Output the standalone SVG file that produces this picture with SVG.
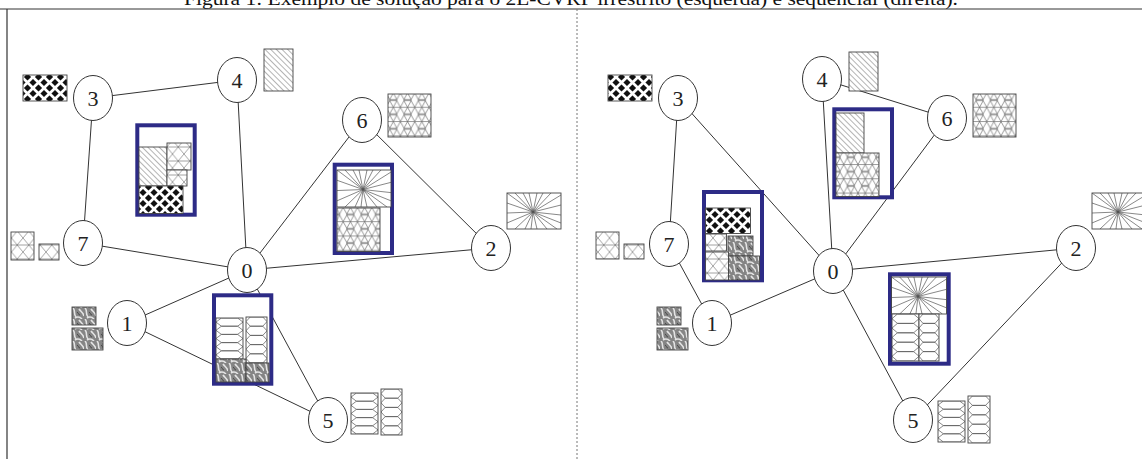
<svg xmlns="http://www.w3.org/2000/svg" xmlns:xlink="http://www.w3.org/1999/xlink" width="1142" height="459" viewBox="0 0 1142 459">
<style>
.title{font-family:"Liberation Serif","Times New Roman",Times,serif;font-size:19px;fill:#111}
.lbl{font-family:"Liberation Serif","Times New Roman",Times,serif;font-size:22px;fill:#222;text-anchor:middle}
.node{fill:#fff;stroke:#333;stroke-width:1}
.edge{stroke:#333;stroke-width:1;fill:none}
.box{fill:#fff;stroke:#2d2b86;stroke-width:4}
.it{stroke:#444;stroke-width:0.9}
.ln{stroke:#555;stroke-width:0.7;fill:none}
</style>
<defs>
<pattern id="trellis" width="11" height="11" patternUnits="userSpaceOnUse">
<rect width="11" height="11" fill="#111"/>
<path d="M-1,-1 L12,12 M12,-1 L-1,12" stroke="#fff" stroke-width="2.7"/>
</pattern>
<pattern id="hatch" width="4" height="4" patternUnits="userSpaceOnUse" patternTransform="rotate(-45)">
<rect width="4" height="4" fill="#fff"/>
<line x1="0" y1="0" x2="0" y2="4" stroke="#444" stroke-width="0.8"/>
</pattern>
<pattern id="voro" width="14.3" height="14.3" patternUnits="userSpaceOnUse">
<rect width="14.3" height="14.3" fill="#fff"/>
<path d="M3.6,0.6 L10.7,0.6 L14.3,7.2 L10.7,13.7 L3.6,13.7 L0,7.2 Z M7.2,7.2 L3.6,0.6 M7.2,7.2 L10.7,0.6 M7.2,7.2 L14.3,7.2 M7.2,7.2 L10.7,13.7 M7.2,7.2 L3.6,13.7 M7.2,7.2 L0,7.2 M3.6,0.6 L3.6,0 M10.7,0.6 L10.7,0 M3.6,13.7 L3.6,14.3 M10.7,13.7 L10.7,14.3" stroke="#555" stroke-width="0.6" fill="none"/>
</pattern>
<pattern id="tri" width="11.5" height="14" patternUnits="userSpaceOnUse">
<rect width="11.5" height="14" fill="#fff"/>
<path d="M0,0 L11.5,14 M11.5,0 L0,14 M0,7 L11.5,7" stroke="#666" stroke-width="0.6" fill="none"/>
</pattern>
<pattern id="grey" width="12" height="11" patternUnits="userSpaceOnUse">
<rect width="12" height="11" fill="#858585"/>
<path d="M1,0 C4,3 1,6 4,9 M7,1 C9,4 11,4 12,8 M3,10 C6,8 8,9 10,11" stroke="#e4e4e4" stroke-width="1.6" fill="none"/>
<path d="M5,4 C7,5 6,7 8,7" stroke="#4a4a4a" stroke-width="1" fill="none"/>
</pattern>
<symbol id="star" viewBox="0 0 54 36" preserveAspectRatio="none">
<rect width="54" height="36" fill="#fff"/>
<path vector-effect="non-scaling-stroke" class="ln" d="M26,19 L0,0 M26,19 L8,0 M26,19 L16,0 M26,19 L22,0 M26,19 L30,0 M26,19 L36,0 M26,19 L44,0 M26,19 L54,2 M26,19 L54,12 M26,19 L54,22 M26,19 L54,30 M26,19 L50,36 M26,19 L40,36 M26,19 L30,36 M26,19 L24,36 M26,19 L18,36 M26,19 L8,36 M26,19 L0,30 M26,19 L0,20 M26,19 L0,10"/>
</symbol>
<symbol id="honey" viewBox="0 0 20 40" preserveAspectRatio="none">
<rect width="20" height="40" fill="#fff"/>
<path vector-effect="non-scaling-stroke" class="ln" d="M0,4 L4,0 L16,0 L20,4 L16,8 L4,8 Z M0,12 L4,8 L16,8 L20,12 L16,16 L4,16 Z M0,20 L4,16 L16,16 L20,20 L16,24 L4,24 Z M0,28 L4,24 L16,24 L20,28 L16,32 L4,32 Z M0,36 L4,32 L16,32 L20,36 L16,40 L4,40 Z"/>
</symbol>
</defs>
<rect width="1142" height="459" fill="#fff"/>
<text class="title" x="571" y="5" text-anchor="middle" textLength="774" lengthAdjust="spacingAndGlyphs">Figura 1: Exemplo de solução para o 2L-CVRP irrestrito (esquerda) e sequencial (direita).</text>
<g id="frame">
<line x1="0" y1="9" x2="1142" y2="9" stroke="#333" stroke-width="1"/>
<line x1="7" y1="9" x2="7" y2="459" stroke="#333" stroke-width="1.2"/>
<line x1="577" y1="9" x2="577" y2="459" stroke="#777" stroke-width="1" stroke-dasharray="2,2"/>
</g>
<g id="connectors">
<line class="edge" x1="93" y1="98" x2="237" y2="80"/>
<line class="edge" x1="93" y1="98" x2="83" y2="243"/>
<line class="edge" x1="237" y1="80" x2="247" y2="270"/>
<line class="edge" x1="83" y1="243" x2="247" y2="270"/>
<line class="edge" x1="247" y1="270" x2="362" y2="120"/>
<line class="edge" x1="362" y1="120" x2="491" y2="248"/>
<line class="edge" x1="247" y1="270" x2="491" y2="248"/>
<line class="edge" x1="247" y1="270" x2="127" y2="323"/>
<line class="edge" x1="127" y1="323" x2="328" y2="420"/>
<line class="edge" x1="247" y1="270" x2="328" y2="420"/>
<line class="edge" x1="678" y1="98" x2="669" y2="244"/>
<line class="edge" x1="678" y1="98" x2="833" y2="271"/>
<line class="edge" x1="669" y1="244" x2="712" y2="323"/>
<line class="edge" x1="712" y1="323" x2="833" y2="271"/>
<line class="edge" x1="822" y1="79" x2="833" y2="271"/>
<line class="edge" x1="822" y1="79" x2="947" y2="118"/>
<line class="edge" x1="947" y1="118" x2="833" y2="271"/>
<line class="edge" x1="833" y1="271" x2="1076" y2="248"/>
<line class="edge" x1="1076" y1="248" x2="913" y2="420"/>
<line class="edge" x1="833" y1="271" x2="913" y2="420"/>
</g>
<g id="L-boxA">
<rect class="box" x="137.3" y="125.3" width="57.4" height="89.4"/>
<rect class="it" x="139" y="147" width="28" height="39" fill="url(#hatch)"/>
<rect class="it" x="167" y="143" width="24" height="27" fill="url(#tri)"/>
<rect class="it" x="167" y="170" width="20" height="16" fill="url(#tri)"/>
<rect class="it" x="139" y="186" width="44" height="27.5" fill="url(#trellis)"/>
</g>
<g id="L-boxB">
<rect class="box" x="334.7" y="164.7" width="57.3" height="88.3"/>
<use href="#star" x="337" y="170" width="54" height="37"/>
<rect class="it" x="337" y="170" width="54" height="37" fill="none"/>
<rect class="it" x="337" y="208" width="43" height="43.5" fill="url(#voro)"/>
</g>
<g id="L-boxC">
<rect class="box" x="214" y="295.3" width="57.3" height="88.4"/>
<use href="#honey" x="216" y="318" width="27" height="41"/>
<rect class="it" x="216" y="318" width="27" height="41" fill="none"/>
<use href="#honey" x="246" y="317" width="21" height="46"/>
<rect class="it" x="246" y="317" width="21" height="46" fill="none"/>
<rect class="it" x="216" y="359" width="30" height="23" fill="url(#grey)"/>
<rect class="it" x="246" y="363" width="23" height="19" fill="url(#grey)"/>
</g>
<g id="L-items">
<rect class="it" x="23" y="75" width="44" height="26" fill="url(#trellis)"/>
<rect class="it" x="264" y="49" width="29" height="42" fill="url(#hatch)"/>
<rect class="it" x="388" y="94" width="43" height="43" fill="url(#voro)"/>
<use href="#star" x="507" y="193" width="54" height="36"/>
<rect class="it" x="507" y="193" width="54" height="36" fill="none"/>
<rect class="it" x="11" y="232" width="23" height="28" fill="url(#tri)"/>
<rect class="it" x="39" y="244" width="20" height="16" fill="url(#tri)"/>
<rect class="it" x="72" y="307" width="24" height="18" fill="url(#grey)"/>
<rect class="it" x="72" y="328" width="31" height="22" fill="url(#grey)"/>
<use href="#honey" x="351" y="393" width="27" height="41"/>
<rect class="it" x="351" y="393" width="27" height="41" fill="none"/>
<use href="#honey" x="381" y="389" width="21" height="46"/>
<rect class="it" x="381" y="389" width="21" height="46" fill="none"/>
</g>
<g id="R-boxD">
<rect class="box" x="704" y="192" width="58" height="88.3"/>
<rect class="it" x="705.5" y="208" width="45" height="25.5" fill="url(#trellis)"/>
<rect class="it" x="705.5" y="234" width="21" height="17" fill="url(#tri)"/>
<rect class="it" x="728" y="236" width="25" height="20" fill="url(#grey)"/>
<rect class="it" x="705.5" y="252" width="23" height="28" fill="url(#tri)"/>
<rect class="it" x="728.5" y="256" width="31" height="24" fill="url(#grey)"/>
</g>
<g id="R-boxE">
<rect class="box" x="834.3" y="109.3" width="57.7" height="88"/>
<rect class="it" x="836" y="113" width="28" height="40" fill="url(#hatch)"/>
<rect class="it" x="836" y="153" width="43" height="43.5" fill="url(#voro)"/>
</g>
<g id="R-boxF">
<rect class="box" x="890" y="274.3" width="58.7" height="89.4"/>
<use href="#star" x="891.5" y="277" width="55" height="37"/>
<rect class="it" x="891.5" y="277" width="55" height="37" fill="none"/>
<use href="#honey" x="892" y="314" width="27" height="47"/>
<rect class="it" x="892" y="314" width="27" height="47" fill="none"/>
<use href="#honey" x="919" y="314" width="20" height="47"/>
<rect class="it" x="919" y="314" width="20" height="47" fill="none"/>
</g>
<g id="R-items">
<rect class="it" x="608" y="75" width="44" height="26" fill="url(#trellis)"/>
<rect class="it" x="849" y="52" width="29" height="39" fill="url(#hatch)"/>
<rect class="it" x="973" y="94" width="43" height="43" fill="url(#voro)"/>
<use href="#star" x="1092" y="193" width="54" height="36"/>
<rect class="it" x="1092" y="193" width="54" height="36" fill="none"/>
<rect class="it" x="596" y="232" width="23" height="27" fill="url(#tri)"/>
<rect class="it" x="624" y="244" width="20" height="15" fill="url(#tri)"/>
<rect class="it" x="657" y="307" width="24" height="18" fill="url(#grey)"/>
<rect class="it" x="657" y="328" width="31" height="22" fill="url(#grey)"/>
<use href="#honey" x="938" y="401" width="27" height="41"/>
<rect class="it" x="938" y="401" width="27" height="41" fill="none"/>
<use href="#honey" x="968" y="396" width="22" height="47"/>
<rect class="it" x="968" y="396" width="22" height="47" fill="none"/>
</g>
<g id="L-n3"><ellipse class="node" cx="93" cy="98" rx="19.5" ry="22.5"/><text class="lbl" x="93" y="106">3</text></g>
<g id="L-n4"><ellipse class="node" cx="237" cy="80" rx="19.5" ry="22.5"/><text class="lbl" x="237" y="88">4</text></g>
<g id="L-n6"><ellipse class="node" cx="362" cy="120" rx="19.5" ry="22.5"/><text class="lbl" x="362" y="128">6</text></g>
<g id="L-n7"><ellipse class="node" cx="83" cy="243" rx="19.5" ry="22.5"/><text class="lbl" x="83" y="251">7</text></g>
<g id="L-n0"><ellipse class="node" cx="247" cy="270" rx="19.5" ry="22.5"/><text class="lbl" x="247" y="278">0</text></g>
<g id="L-n2"><ellipse class="node" cx="491" cy="248" rx="19.5" ry="22.5"/><text class="lbl" x="491" y="256">2</text></g>
<g id="L-n1"><ellipse class="node" cx="127" cy="323" rx="19.5" ry="22.5"/><text class="lbl" x="127" y="331">1</text></g>
<g id="L-n5"><ellipse class="node" cx="328" cy="420" rx="19.5" ry="22.5"/><text class="lbl" x="328" y="428">5</text></g>
<g id="R-n3"><ellipse class="node" cx="678" cy="98" rx="19.5" ry="22.5"/><text class="lbl" x="678" y="106">3</text></g>
<g id="R-n4"><ellipse class="node" cx="822" cy="79" rx="19.5" ry="22.5"/><text class="lbl" x="822" y="87">4</text></g>
<g id="R-n6"><ellipse class="node" cx="947" cy="118" rx="19.5" ry="22.5"/><text class="lbl" x="947" y="126">6</text></g>
<g id="R-n7"><ellipse class="node" cx="669" cy="244" rx="19.5" ry="22.5"/><text class="lbl" x="669" y="252">7</text></g>
<g id="R-n0"><ellipse class="node" cx="833" cy="271" rx="19.5" ry="22.5"/><text class="lbl" x="833" y="279">0</text></g>
<g id="R-n2"><ellipse class="node" cx="1076" cy="248" rx="19.5" ry="22.5"/><text class="lbl" x="1076" y="256">2</text></g>
<g id="R-n1"><ellipse class="node" cx="712" cy="323" rx="19.5" ry="22.5"/><text class="lbl" x="712" y="331">1</text></g>
<g id="R-n5"><ellipse class="node" cx="913" cy="420" rx="19.5" ry="22.5"/><text class="lbl" x="913" y="428">5</text></g>
</svg>
